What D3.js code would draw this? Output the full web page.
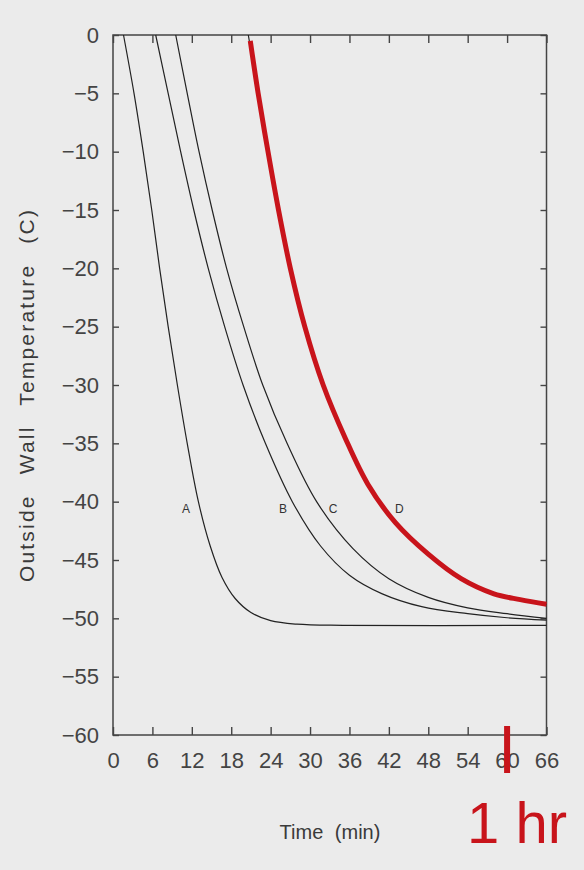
<!DOCTYPE html>
<meta charset="utf-8">
<head>
	<script src="https://d3js.org/d3.v7.min.js"></script>
	<style>
		body { margin: 0; background: #ebebeb; }
		#chart svg { display: block; }
		.axis path { display: none; }
		.axis line { stroke: #444; stroke-width: 1.4; }
		.axis text { font-family: "Liberation Sans", Arial, sans-serif; font-size: 22px; fill: #444; }
		.curve { fill: none; stroke: #222; stroke-width: 1.2; }
		.label { font-family: "Liberation Sans", Arial, sans-serif; font-size: 12px; fill: #333; text-anchor: middle; }
	</style>
</head>
<body>
	<div id="chart"></div>
</body>
<script type="text/javascript">
	// time (min), outside wall temperature (C)
	var curveA = [[1.6,0],[3.2,-5],[4.6,-10],[5.9,-15],[7.1,-20],[8.4,-25],[9.8,-30],[11.3,-35],[13,-40],[14.8,-43.8],[16.6,-46.5],[18.6,-48.3],[21,-49.5],[24,-50.2],[28,-50.5],[35,-50.6],[66,-50.6]];
	var curveB = [[6.5,0],[8.4,-5],[10.3,-10],[12.3,-15],[14.5,-20],[17,-25],[19.8,-30],[23.2,-35],[27.3,-40],[31.6,-43.8],[36,-46.3],[41,-47.9],[47,-49],[54,-49.6],[60,-49.95],[66,-50.15]];
	var curveC = [[9.55,0],[11.3,-5],[13.1,-10],[15.1,-15],[17.3,-20],[19.9,-25],[22.8,-30],[26.5,-35],[31,-40],[36.5,-44],[42,-46.6],[48,-48.2],[54,-49.1],[60,-49.6],[66,-50.0]];
	var curveD = [[20.6,0],[22.1,-5],[23.6,-10],[25.2,-15],[27.0,-20],[29.2,-25],[32,-30],[35.4,-34.6],[38.8,-38.5],[43,-41.8],[48,-44.5],[53,-46.6],[58,-47.9],[62,-48.4],[66,-48.8]];
	var curveLabels = [["A",11.1],["B",25.9],["C",33.5],["D",43.6]];
	var labelTemp = -40.6;

	var xTicks = d3.range(0, 67, 6);
	var yTicks = d3.range(-60, 1, 5);
	var markTime = 60;

	var W = 584, H = 870;
	var plotLeft = 113, plotRight = 546.5, plotTop = 35, plotBottom = 735;

	var x = d3.scaleLinear().domain([0, 66]).range([plotLeft, plotRight]);
	var y = d3.scaleLinear().domain([-60, 0]).range([plotBottom, plotTop]);

	var svg = d3.select("#chart").append("svg")
		.attr("width", W)
		.attr("height", H);

	svg.append("rect")
		.attr("width", W)
		.attr("height", H)
		.style("fill", "#ebebeb");

	// inward ticks on all four sides
	svg.append("g")
		.attr("class", "axis")
		.attr("transform", "translate(0," + plotBottom + ")")
		.call(d3.axisBottom(x).tickValues(xTicks).tickSizeInner(-8).tickSizeOuter(0).tickPadding(17).tickFormat(d3.format("d")));

	svg.append("g")
		.attr("class", "axis")
		.attr("transform", "translate(0," + plotTop + ")")
		.call(d3.axisTop(x).tickValues(xTicks).tickSizeInner(-8).tickSizeOuter(0).tickFormat(""));

	svg.append("g")
		.attr("class", "axis")
		.attr("transform", "translate(" + plotLeft + ",0)")
		.call(d3.axisLeft(y).tickValues(yTicks).tickSizeInner(-6).tickSizeOuter(0).tickPadding(14).tickFormat(d3.format("d")));

	svg.append("g")
		.attr("class", "axis")
		.attr("transform", "translate(" + plotRight + ",0)")
		.call(d3.axisRight(y).tickValues(yTicks).tickSizeInner(-6).tickSizeOuter(0).tickFormat(""));

	svg.append("rect")
		.attr("x", plotLeft)
		.attr("y", plotTop)
		.attr("width", plotRight - plotLeft)
		.attr("height", plotBottom - plotTop)
		.style("fill", "none")
		.style("stroke", "#444")
		.style("stroke-width", 1.5);

	var line = d3.line()
		.x(function(d) { return x(d[0]); })
		.y(function(d) { return y(d[1]); })
		.curve(d3.curveCatmullRom.alpha(0.5));

	[curveA, curveB, curveC, curveD].forEach(function(c) {
		svg.append("path")
			.attr("class", "curve")
			.attr("d", line(c));
	});

	svg.selectAll(".label")
		.data(curveLabels)
		.enter().append("text")
		.attr("class", "label")
		.attr("x", function(d) { return x(d[1]); })
		.attr("y", y(labelTemp))
		.attr("dy", "0.35em")
		.text(function(d) { return d[0]; });

	// red highlight traced over curve D
	var redD = [[20.9, -0.5]].concat(curveD.slice(1));
	svg.append("path")
		.attr("d", line(redD))
		.style("fill", "none")
		.style("stroke", "#c8141b")
		.style("stroke-width", 5);

	svg.append("line")
		.attr("x1", x(markTime))
		.attr("x2", x(markTime))
		.attr("y1", 726)
		.attr("y2", 773)
		.style("stroke", "#c8141b")
		.style("stroke-width", 6);

	svg.append("text")
		.attr("x", 517)
		.attr("y", 843)
		.style("text-anchor", "middle")
		.style("font-family", "Liberation Sans, Arial, sans-serif")
		.style("font-size", "58px")
		.style("fill", "#c8141b")
		.text("1 hr");

	svg.append("text")
		.attr("x", 330)
		.attr("y", 839)
		.style("text-anchor", "middle")
		.style("font-family", "Liberation Sans, Arial, sans-serif")
		.style("font-size", "20px")
		.style("fill", "#3a3a3a")
		.style("word-spacing", "6px")
		.text("Time (min)");

	svg.append("text")
		.attr("transform", "translate(34," + 395 + ")rotate(-90)")
		.style("text-anchor", "middle")
		.style("font-family", "Liberation Sans, Arial, sans-serif")
		.style("font-size", "21px")
		.style("fill", "#3a3a3a")
		.style("letter-spacing", "2.2px")
		.style("word-spacing", "12px")
		.text("Outside Wall Temperature (C)");
</script>
